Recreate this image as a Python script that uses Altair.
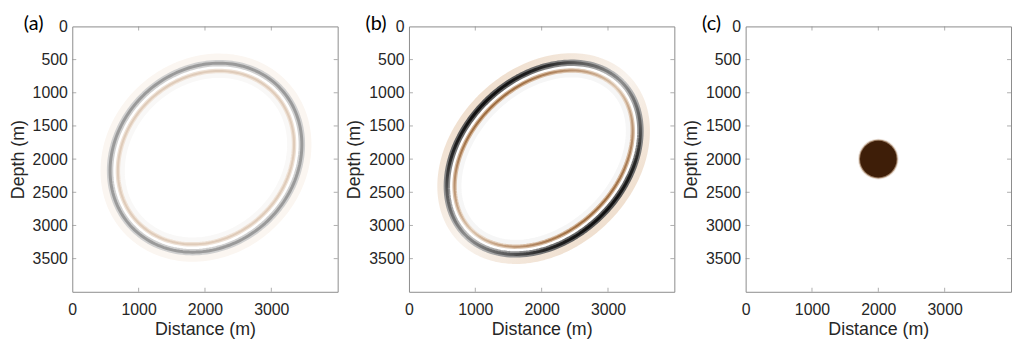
import altair as alt
import numpy as np
import pandas as pd

# ---- data ----
x_ticks = [0, 1000, 2000, 3000]
y_ticks = [0, 500, 1000, 1500, 2000, 2500, 3000, 3500]
panel_labels = ["(a)", "(b)", "(c)"]
label_dx = [-49, -44, -44]

# wavefront ellipse: centre x, centre depth, semi-major, semi-minor, tilt (deg)
front_a = [2015, 1978, 1532, 1331, 42]
front_b = [2030, 1992, 1648, 1224, 44]
source_x = [2000]
source_z = [2000]


def grad(stops):
    return alt.LinearGradient(
        gradient="linear", x1=0, y1=0, x2=1, y2=1,
        stops=[alt.GradientStop(color=c, offset=o) for o, c in stops])


# (offset of ring from main front in m, stroke width, colour)
rings_a = [
    (-185, 5.0, "#f9f8f7"),
    (85, 8.0, "#fbf6f1"),
    (-118, 4.5, "#eee1d5"),
    (-118, 2.0, "#dfcbb9"),
    (0, 6.5, "#d0d0d0"),
    (0, 3.0, "#9a9a9a"),
]

dark_stops = [(0, "#101010"), (0.2, "#101010"), (0.26, "#282828"), (0.34, "#5a5a5a"),
              (0.5, "#8c8c8c"), (0.66, "#5a5a5a"), (0.74, "#282828"), (0.8, "#101010"),
              (1, "#101010")]
edge_stops = [(0, "#5a5a5a"), (0.2, "#5a5a5a"), (0.3, "#8a8a8a"), (0.5, "#c4c4c4"),
              (0.7, "#8a8a8a"), (0.8, "#5a5a5a"), (1, "#5a5a5a")]
brown_stops = [(0, "#9c6a3c"), (0.2, "#9c6a3c"), (0.3, "#b48a66"), (0.5, "#dac2aa"),
               (0.7, "#b48a66"), (0.8, "#9c6a3c"), (1, "#9c6a3c")]
brown_edge = [(0, "#cfae90"), (0.2, "#cfae90"), (0.5, "#ecdfd2"), (0.8, "#cfae90"), (1, "#cfae90")]
halo_stops = [(0, "#f0e0d0"), (0.2, "#f0e0d0"), (0.5, "#f9f3ed"), (0.8, "#f0e0d0"), (1, "#f0e0d0")]

rings_b = [
    (-185, 5.0, "#f6f6f6"),
    (85, 8.0, grad(halo_stops)),
    (-118, 4.5, grad(brown_edge)),
    (-118, 2.0, grad(brown_stops)),
    (0, 6.5, grad(edge_stops)),
    (0, 3.0, grad(dark_stops)),
]

W = H = 268
xs = alt.Scale(domain=[0, 4000], nice=False, zero=False)
ys = alt.Scale(domain=[0, 4000], nice=False, zero=False, reverse=True)
X = lambda: alt.X("x:Q", scale=xs, axis=alt.Axis(values=x_ticks, title="Distance (m)", format="d"))
Y = lambda: alt.Y("z:Q", scale=ys, axis=alt.Axis(values=y_ticks, title="Depth (m)", format="d"))


def ellipse_df(p, off):
    cx, cz, a, b, phi = p
    a, b = a + off, b + off
    ph = np.deg2rad(phi)
    t = np.deg2rad(np.arange(0, 361, 2))
    x = cx + a * np.cos(t) * np.cos(ph) + b * np.sin(t) * np.sin(ph)
    z = cz - a * np.cos(t) * np.sin(ph) + b * np.sin(t) * np.cos(ph)
    return pd.DataFrame({"x": x, "z": z, "i": np.arange(len(t))})


def ticks():
    xt = pd.DataFrame({"x": x_ticks[1:]})
    zt = pd.DataFrame({"z": y_ticks[1:]})
    out = []
    for yv in (2, H - 2):
        out.append(alt.Chart(xt).mark_tick(orient="vertical", size=4, thickness=1, color="#8c8c8c")
                   .encode(x=X(), y=alt.value(yv)))
    for xv in (2, W - 2):
        out.append(alt.Chart(zt).mark_tick(orient="horizontal", size=4, thickness=1, color="#8c8c8c")
                   .encode(y=Y(), x=alt.value(xv)))
    return out


def label(k):
    return alt.Chart(pd.DataFrame({"t": [panel_labels[k]]})).mark_text(
        align="left", baseline="alphabetic", font="Lato", fontSize=20, color="#000000"
    ).encode(x=alt.value(label_dx[k]), y=alt.value(4), text="t:N")


def ring_panel(p, rings, k):
    layers = []
    for off, w, col in rings:
        layers.append(alt.Chart(ellipse_df(p, off)).mark_line(
            stroke=col, strokeWidth=w, strokeJoin="round").encode(
            x=X(), y=Y(), order="i:Q"))
    layers += ticks()
    layers.append(label(k))
    return alt.layer(*layers).properties(width=W, height=H)


src = pd.DataFrame({"x": source_x, "z": source_z})
panel_c = alt.layer(
    alt.Chart(src).mark_circle(size=1681, color="#d8c4b2", opacity=0.5).encode(x=X(), y=Y()),
    alt.Chart(src).mark_circle(size=1521, color="#7a5232", opacity=0.7).encode(x=X(), y=Y()),
    alt.Chart(src).mark_circle(size=1369, color="#3e1e08", opacity=1).encode(x=X(), y=Y()),
    *ticks(),
    label(2),
).properties(width=W, height=H)

chart = alt.hconcat(
    ring_panel(front_a, rings_a, 0),
    ring_panel(front_b, rings_b, 1),
    panel_c,
    spacing=72,
    bounds="flush",
).properties(
    padding={"left": 8, "top": 12, "right": 0, "bottom": 0},
    autosize=alt.AutoSizeParams(type="pad"),
    background="white",
).configure_view(
    stroke="#8c8c8c", strokeWidth=1
).configure_axis(
    labelFont="Liberation Sans", labelFontSize=16, labelColor="#262626",
    titleFont="Liberation Sans", titleFontSize=18, titleFontWeight="normal", titleColor="#262626",
    ticks=False, tickSize=0, domain=False, grid=False, labelFlush=False,
).configure_axisX(
    labelPadding=10, titlePadding=3
).configure_axisY(
    labelPadding=5, titlePadding=5
)

chart.save("out.html", embed_options={"renderer": "svg", "actions": False})
